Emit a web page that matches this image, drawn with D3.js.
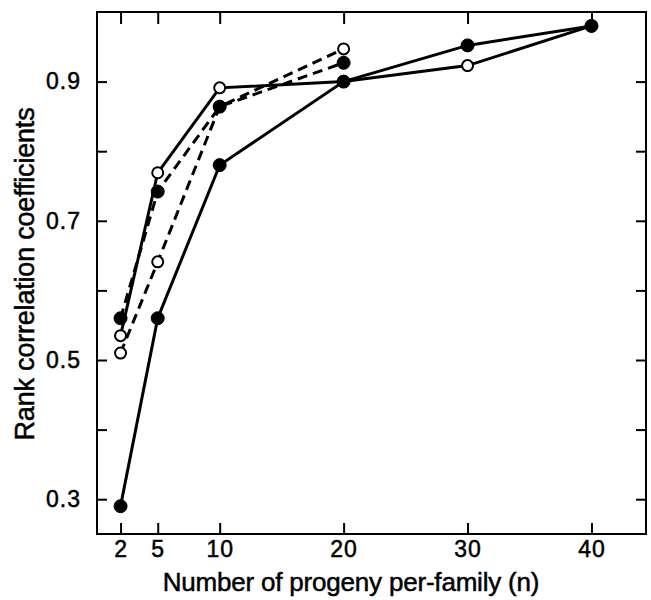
<!DOCTYPE html>
<html>
<head>
<meta charset="utf-8">
<script src="https://cdn.jsdelivr.net/npm/d3@7"></script>
<style>
  body { margin: 0; background: #fff; }
  svg text { font-family: "Liberation Sans", Arial, sans-serif; fill: #000; stroke: #000; stroke-width: 0.5; }
  .axis path, .axis line { stroke: #000; stroke-width: 2; }
  .axis text { font-size: 23px; letter-spacing: 1px; }
  .label { letter-spacing: -0.2px; }
</style>
</head>
<body>
<div id="container"></div>
<script>
// progeny per family
const nValues = [2, 5, 10, 20, 30, 40];
const nShort = [2, 5, 10, 20];

// solid lines
const solidFilled = [0.29, 0.56, 0.78, 0.90, 0.952, 0.98];
const solidOpen = [0.535, 0.769, 0.891, 0.90, 0.923, 0.98];
// dashed lines
const dashedFilled = [0.56, 0.742, 0.864, 0.927];
const dashedOpen = [0.51, 0.641, 0.864, 0.947];

const yTicks = [0.3, 0.4, 0.5, 0.6, 0.7, 0.8, 0.9];
const yLabels = ["0.3", "", "0.5", "", "0.7", "", "0.9"];

const width = 651, height = 600;
const plotLeft = 97, plotRight = 646, plotTop = 12, plotBottom = 534;

var svg = d3.select("#container").append("svg")
  .attr("width", width)
  .attr("height", height);

const x = d3.scaleLinear().domain([0.1, 44.4]).range([plotLeft, plotRight]);
const y = d3.scaleLinear().domain([0.25, 1.0]).range([plotBottom, plotTop]);

// frame
svg.append("rect")
  .attr("x", plotLeft).attr("y", plotTop)
  .attr("width", plotRight - plotLeft).attr("height", plotBottom - plotTop)
  .attr("fill", "none").attr("stroke", "#000").attr("stroke-width", 2);

svg.append("g").attr("class", "axis")
  .attr("transform", `translate(${plotLeft},0)`)
  .call(d3.axisLeft(y).tickValues(yTicks).tickSize(-10).tickPadding(16)
    .tickFormat((d, i) => yLabels[i]))
  .call(g => g.select(".domain").remove());

svg.append("g").attr("class", "axis")
  .attr("transform", `translate(${plotRight},0)`)
  .call(d3.axisRight(y).tickValues(yTicks).tickSize(-10).tickFormat(""))
  .call(g => g.select(".domain").remove());

svg.append("g").attr("class", "axis")
  .attr("transform", `translate(0,${plotBottom})`)
  .call(d3.axisBottom(x).tickValues(nValues).tickSize(-11).tickPadding(7)
    .tickFormat(d3.format("d")))
  .call(g => g.select(".domain").remove());

svg.append("g").attr("class", "axis")
  .attr("transform", `translate(0,${plotTop})`)
  .call(d3.axisTop(x).tickValues(nValues).tickSize(-12).tickFormat(""))
  .call(g => g.select(".domain").remove());

const series = [
  { xs: nValues, ys: solidFilled, dash: null, filled: true },
  { xs: nValues, ys: solidOpen, dash: null, filled: false },
  { xs: nShort, ys: dashedFilled, dash: "10,6", filled: true },
  { xs: nShort, ys: dashedOpen, dash: "10,6", filled: false }
];

const line = d3.line().x(d => x(d[0])).y(d => y(d[1]));

series.forEach(s => {
  svg.append("path")
    .datum(s.xs.map((v, i) => [v, s.ys[i]]))
    .attr("d", line)
    .attr("fill", "none")
    .attr("stroke", "#000")
    .attr("stroke-width", 3)
    .attr("stroke-dasharray", s.dash);
});

// open markers first, filled on top
series.filter(s => !s.filled).concat(series.filter(s => s.filled)).forEach(s => {
  svg.selectAll(null)
    .data(s.xs.map((v, i) => [v, s.ys[i]]))
    .enter().append("circle")
    .attr("cx", d => x(d[0]))
    .attr("cy", d => y(d[1]))
    .attr("r", s.filled ? 6.5 : 5.5)
    .attr("fill", s.filled ? "#000" : "#fff")
    .attr("stroke", "#000")
    .attr("stroke-width", s.filled ? 1 : 2);
});

svg.append("text")
  .attr("class", "label")
  .attr("font-size", 27)
  .attr("transform", `translate(34,274) rotate(-90)`)
  .attr("text-anchor", "middle")
  .text("Rank correlation coefficients");

svg.append("text")
  .attr("class", "label")
  .attr("font-size", 26)
  .attr("x", 351)
  .attr("y", 591)
  .attr("text-anchor", "middle")
  .text("Number of progeny per-family (n)");
</script>
</body>
</html>
